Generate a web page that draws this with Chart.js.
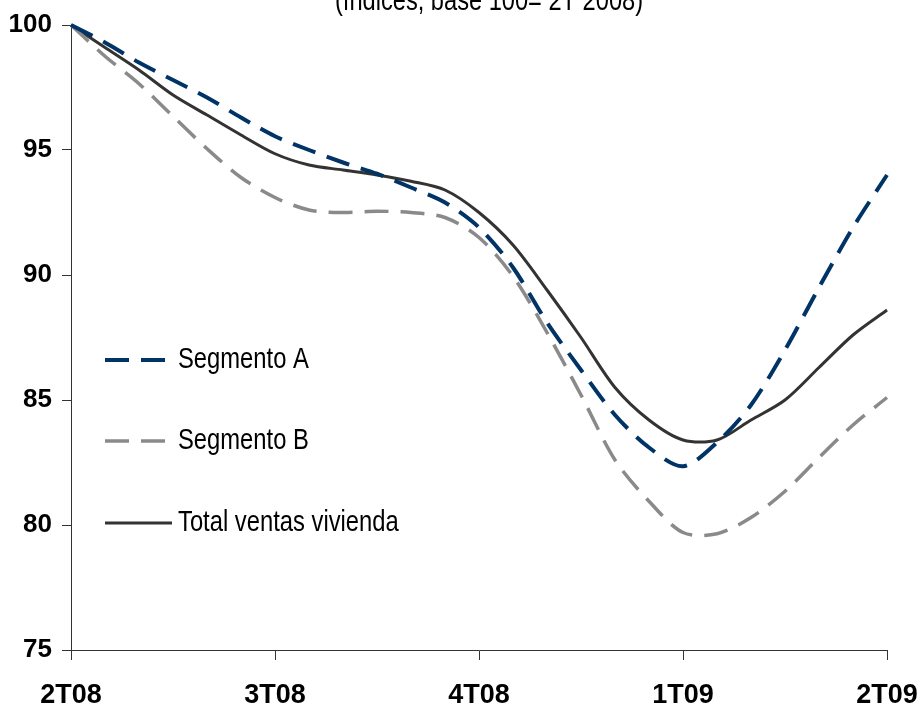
<!DOCTYPE html>
<html>
<head>
<meta charset="utf-8">
<script src="https://cdn.jsdelivr.net/npm/chart.js@4.4.0/dist/chart.umd.min.js"></script>
<style>
  html, body { margin: 0; padding: 0; background: #fff; }
  #wrap { width: 918px; height: 709px; }
</style>
</head>
<body>
<div id="wrap"><canvas id="chart" width="918" height="709"></canvas></div>
<script>
"use strict";

// 1: data (25 points, 6 per quarter)
const quarters = ['2T08', '3T08', '4T08', '1T09', '2T09'];
const segmentoA = [100, 99.3, 98.5, 97.8, 97.1, 96.3, 95.55, 95.0, 94.5, 94.05, 93.5, 92.9,
  91.9, 90.3, 88.1, 86.2, 84.4, 83.1, 82.35, 83.3, 84.8, 87.0, 89.5, 91.9, 94.0];
const segmentoB = [100, 98.75, 97.65, 96.35, 95.05, 93.9, 93.1, 92.6, 92.5, 92.55, 92.5, 92.3,
  91.5, 89.95, 87.7, 85.2, 82.6, 80.95, 79.7, 79.65, 80.3, 81.35, 82.7, 84.0, 85.1];
const totalVentas = [100, 99.1, 98.2, 97.2, 96.4, 95.6, 94.85, 94.4, 94.2, 94.0, 93.75, 93.4,
  92.5, 91.2, 89.4, 87.5, 85.5, 84.2, 83.4, 83.4, 84.2, 85.0, 86.3, 87.6, 88.6];
const titleText = '(índices, base 100= 2T 2008)';

// 2: helpers
function toPoints(values) {
  return values.map((v, i) => ({ x: i, y: v }));
}

// narrow-looking text: regular font squeezed horizontally
function narrowText(ctx, text, x, y, align, squeeze) {
  ctx.save();
  ctx.translate(x, y);
  ctx.scale(squeeze, 1);
  ctx.textAlign = align;
  ctx.fillText(text, 0, 0);
  ctx.restore();
}

// title and legend drawn inside the plot, like the original
const insideLegend = {
  id: 'insideLegend',
  afterDraw(chart) {
    const ctx = chart.ctx;
    const rows = [360, 441, 523];
    ctx.save();
    ctx.fillStyle = '#000';
    ctx.font = '29px "Liberation Sans", Arial, sans-serif';
    ctx.textBaseline = 'alphabetic';
    narrowText(ctx, titleText, 489, 10, 'center', 0.815);
    chart.data.datasets.forEach((ds, i) => {
      const y = rows[i];
      ctx.beginPath();
      ctx.setLineDash(ds.borderDash || []);
      ctx.strokeStyle = ds.borderColor;
      ctx.lineWidth = ds.borderWidth;
      ctx.moveTo(105, y);
      ctx.lineTo(172, y);
      ctx.stroke();
      ctx.setLineDash([]);
      ctx.fillStyle = '#000';
      ctx.textBaseline = 'middle';
      narrowText(ctx, ds.label, 178, y, 'left', 0.82);
    });
    ctx.restore();
  }
};

// 3: chart
function appendChart() {
  const chartContainer = document.getElementById('chart');
  new Chart(chartContainer, {
    type: 'line',
    data: {
      datasets: [{
        label: 'Segmento A',
        data: toPoints(segmentoA),
        borderColor: '#003366',
        borderWidth: 4,
        borderDash: [24, 12]
      },
      {
        label: 'Segmento B',
        data: toPoints(segmentoB),
        borderColor: '#8a8a8a',
        borderWidth: 3.5,
        borderDash: [24, 12]
      },
      {
        label: 'Total ventas vivienda',
        data: toPoints(totalVentas),
        borderColor: '#333333',
        borderWidth: 3
      }]
    },
    options: {
      responsive: false,
      animation: false,
      clip: false,
      layout: { padding: { top: 25, right: 31, left: 0, bottom: 0 } },
      elements: {
        point: { radius: 0 },
        line: { tension: 0.3, borderCapStyle: 'butt' }
      },
      plugins: {
        legend: { display: false },
        title: { display: false },
        tooltip: { enabled: false }
      },
      scales: {
        x: {
          type: 'linear',
          min: 0,
          max: 24,
          afterFit(scale) {
            scale.height = 59;
            scale.paddingLeft = 0;
            scale.paddingRight = 0;
          },
          border: { display: true, color: '#333', width: 1 },
          grid: { drawOnChartArea: false, drawTicks: true, tickLength: 10, color: '#333' },
          ticks: {
            stepSize: 6,
            padding: 19,
            color: '#000',
            font: { family: '"Liberation Sans", Arial, sans-serif', size: 27, weight: 'bold' },
            callback: (v) => quarters[v / 6]
          }
        },
        y: {
          min: 75,
          max: 100,
          afterFit(scale) {
            scale.width = 71;
            scale.paddingTop = 0;
            scale.paddingBottom = 0;
          },
          border: { display: true, color: '#333', width: 1 },
          grid: { drawOnChartArea: false, drawTicks: true, tickLength: 9, color: '#333' },
          ticks: {
            stepSize: 5,
            padding: 10,
            color: '#000',
            font: { family: '"Liberation Sans", Arial, sans-serif', size: 26, weight: 'bold' }
          }
        }
      }
    },
    plugins: [insideLegend]
  });
}

appendChart();
</script>
</body>
</html>
